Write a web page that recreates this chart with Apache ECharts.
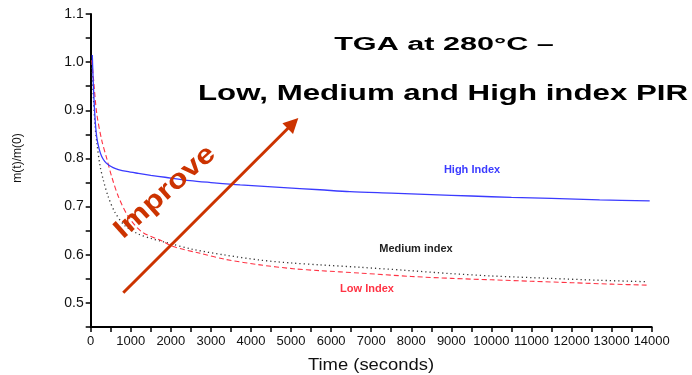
<!DOCTYPE html>
<html>
<head>
<meta charset="utf-8">
<script src="https://cdn.jsdelivr.net/npm/echarts@6/dist/echarts.min.js"></script>
<style>
  html, body { margin: 0; padding: 0; background: #fff; }
  #chart { width: 692px; height: 375px; }
</style>
</head>
<body>
<div id="chart"></div>
<script>
// Residual mass fraction m(t)/m(0) vs time (s), isothermal TGA at 280 °C
const highIndex = [
  [40, 1.015], [65, 0.955], [107, 0.885], [150, 0.845], [210, 0.82], [275, 0.804],
  [350, 0.794], [440, 0.787], [560, 0.781], [690, 0.777], [900, 0.773], [1190, 0.769],
  [1500, 0.765], [1855, 0.761], [2480, 0.754], [3000, 0.750], [3730, 0.745],
  [4720, 0.740], [5720, 0.735], [6470, 0.731], [7500, 0.728], [8500, 0.725],
  [9500, 0.722], [10500, 0.719], [11500, 0.717], [12700, 0.714], [13950, 0.712]
];
const mediumIndex = [
  [25, 0.997], [65, 0.93], [107, 0.87], [150, 0.835], [232, 0.785], [315, 0.755],
  [440, 0.72], [606, 0.688], [856, 0.66], [1190, 0.643], [1500, 0.634], [1810, 0.627],
  [2560, 0.611], [3310, 0.600], [4225, 0.589], [5000, 0.583], [5720, 0.579],
  [6720, 0.574], [7800, 0.568], [8965, 0.561], [10000, 0.556], [11460, 0.551],
  [12710, 0.547], [13900, 0.544]
];
const lowIndex = [
  [25, 1.004], [65, 0.97], [150, 0.894], [275, 0.838], [400, 0.800], [525, 0.762],
  [690, 0.721], [940, 0.679], [1270, 0.648], [1770, 0.629], [2060, 0.617],
  [2730, 0.603], [3390, 0.590], [4225, 0.579], [5056, 0.571], [5720, 0.567],
  [6720, 0.562], [8000, 0.555], [9000, 0.551], [10000, 0.548], [11000, 0.545],
  [12000, 0.542], [13000, 0.539], [13900, 0.537]
];
// "Improve" arrow, in data coordinates (time, m(t)/m(0))
const arrowFrom = [813, 0.521];
const arrowTo = [5049, 0.873];

const titleLine1 = 'TGA at 280°C –';
const titleLine2 = 'Low, Medium and High index PIR';

const FONT = '"Liberation Sans", Arial, sans-serif';
const ORANGE = '#cc3300';

const chart = echarts.init(document.getElementById('chart'), null, { renderer: 'canvas' });

chart.setOption({
  animation: false,
  backgroundColor: '#ffffff',
  grid: { left: 90.7, right: 40.3, top: 14, bottom: 48 },
  xAxis: {
    type: 'value',
    min: 0, max: 14000, interval: 500,
    axisLine: { onZero: false, lineStyle: { color: '#000', width: 2 } },
    axisTick: { inside: false, length: 5, lineStyle: { color: '#000', width: 1.5 } },
    axisLabel: {
      margin: 8, fontFamily: FONT, fontSize: 13, color: '#111',
      formatter: v => (v % 1000 === 0 ? String(v) : '')
    },
    splitLine: { show: false }
  },
  yAxis: {
    type: 'value',
    min: 0.45, max: 1.1, interval: 0.05,
    axisLine: { onZero: false, lineStyle: { color: '#000', width: 2 } },
    axisTick: { inside: false, length: 5, lineStyle: { color: '#000', width: 1.5 } },
    axisLabel: {
      margin: 7, fontFamily: FONT, fontSize: 14, color: '#111',
      formatter: v => {
        const k = Math.round(v * 100);
        return k % 10 === 0 ? (k / 100).toFixed(1) : '';
      }
    },
    splitLine: { show: false }
  },
  series: [
    {
      name: 'High Index', type: 'line', data: highIndex, showSymbol: false, smooth: 0.3,
      lineStyle: { color: '#3b3bff', width: 1.3 },
      markLine: {
        silent: true,
        symbol: ['none', 'triangle'],
        symbolSize: 15,
        label: { show: false },
        lineStyle: { color: ORANGE, width: 3, type: 'solid' },
        data: [[{ coord: arrowFrom }, { coord: arrowTo }]]
      },
      z: 3
    },
    {
      name: 'Medium index', type: 'line', data: mediumIndex, showSymbol: false, smooth: 0.3,
      lineStyle: { color: '#333', width: 1.3, type: [1.2, 3] },
      z: 2
    },
    {
      name: 'Low Index', type: 'line', data: lowIndex, showSymbol: false, smooth: 0.3,
      lineStyle: { color: '#ff3344', width: 1.1, type: [5, 3] },
      z: 2
    }
  ],
  graphic: [
    {
      type: 'text', x: 444, y: 45, scaleX: 1.7, z: 10,
      style: { text: titleLine1, font: 'bold 18px ' + FONT, fill: '#000',
               textAlign: 'center', textVerticalAlign: 'middle' }
    },
    {
      type: 'text', x: 443, y: 94, scaleX: 1.42, z: 10,
      style: { text: titleLine2, font: 'bold 22px ' + FONT, fill: '#000',
               textAlign: 'center', textVerticalAlign: 'middle' }
    },
    {
      type: 'text', x: 165, y: 192, scaleX: 1.2, rotation: 41.7 * Math.PI / 180, z: 10,
      style: { text: 'Improve', font: 'bold 27px ' + FONT, fill: ORANGE,
               textAlign: 'center', textVerticalAlign: 'middle' }
    },
    {
      type: 'text', x: 18, y: 158, rotation: Math.PI / 2, z: 10,
      style: { text: 'm(t)/m(0)', font: '12px ' + FONT, fill: '#111',
               textAlign: 'center', textVerticalAlign: 'middle' }
    },
    {
      type: 'text', x: 371, y: 366, scaleX: 1.15, z: 10,
      style: { text: 'Time (seconds)', font: '16px ' + FONT, fill: '#111',
               textAlign: 'center', textVerticalAlign: 'middle' }
    },
    {
      type: 'text', x: 472, y: 170, z: 10,
      style: { text: 'High Index', font: 'bold 11px ' + FONT, fill: '#3b3bff',
               textAlign: 'center', textVerticalAlign: 'middle' }
    },
    {
      type: 'text', x: 416, y: 249, z: 10,
      style: { text: 'Medium index', font: 'bold 11px ' + FONT, fill: '#222',
               textAlign: 'center', textVerticalAlign: 'middle' }
    },
    {
      type: 'text', x: 367, y: 289, z: 10,
      style: { text: 'Low Index', font: 'bold 11px ' + FONT, fill: '#ff3344',
               textAlign: 'center', textVerticalAlign: 'middle' }
    }
  ]
});
</script>
</body>
</html>
